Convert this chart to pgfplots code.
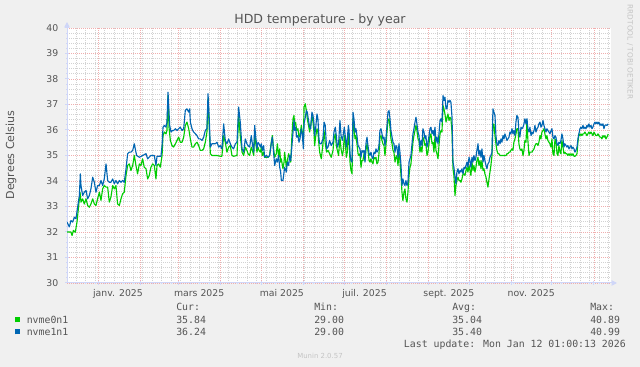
\documentclass[border=0pt]{standalone}
\usepackage{fontspec}
\setmainfont{DejaVu Sans}
\newfontfamily\monofont{DejaVu Sans Mono}
\usepackage{pgfplots}
\pgfplotsset{compat=1.18}
\usetikzlibrary{arrows.meta}
\definecolor{bgc}{HTML}{F0F0F0}
\definecolor{fontc}{HTML}{555555}
\definecolor{axisc}{HTML}{CFD6F8}
\definecolor{mgrid}{HTML}{F0AEAE}
\definecolor{mingrid}{HTML}{D2D2D2}
\definecolor{wmc}{HTML}{C4C4C4}
\definecolor{cgreen}{HTML}{00CC00}
\definecolor{cblue}{HTML}{0066B3}
\newcommand{\lf}{\monofont\fontsize{7.4}{8}\selectfont}
\begin{document}
\begin{tikzpicture}[x=1pt,y=1pt]
\fill[bgc] (0,0) rectangle (480,275.25);
\begin{axis}[
  at={(50.25pt,63pt)}, anchor=south west,
  scale only axis, width=408pt, height=191.25pt,
  xmin=0, xmax=400, ymin=30, ymax=40,
  axis background/.style={fill=white},
  axis x line=bottom, axis y line=left,
  axis line style={draw=axisc, line width=0.75pt},
  x axis line style={-{Triangle[length=4pt,width=4pt]}, shorten >=-4.5pt},
  y axis line style={-{Triangle[length=4pt,width=4pt]}, shorten >=-4.5pt},
  xtick={22.8,53.7,81.8,112.7,142.7,173.7,203.7,234.6,265.6,295.6,326.6,356.5,387.5},
  xticklabels={},
  extra x ticks={37.5,97.2,158,218.8,280.8,341.3},
  extra x tick labels={janv. 2025,mars 2025,mai 2025,juil. 2025,sept. 2025,nov. 2025},
  extra x tick style={grid=none, major tick length=0pt},
  minor xtick={6.82,13.81,...,399},
  ytick={30,31,...,40},
  minor ytick={30.2,30.4,...,39.9},
  grid=both,
  major grid style={draw=mgrid, dash pattern=on 0.75pt off 0.75pt, line width=0.6pt},
  minor grid style={draw=mingrid, dash pattern=on 0.75pt off 0.75pt, line width=0.6pt},
  tick style={draw=axisc, line width=0.75pt},
  tick align=center, major tick length=3pt, minor tick length=1.5pt,
  /pgf/number format/assume math mode=true,
  yticklabel style={font=\fontsize{7}{8}\selectfont, text=fontc, anchor=east, inner sep=0pt, xshift=-4.9pt},
  xticklabel style={font=\fontsize{7}{8}\selectfont, text=fontc, anchor=base, inner sep=0pt, yshift=-10.1pt},
  clip=true,
]
\addplot[cgreen, line width=0.85pt, line join=round] coordinates {
(0,32.0) (2.9,32.0) (3.7,31.86) (4.7,32.06) (6.1,31.99) (7.35,32.39) (8.6,33.04) (9.6,33.56) (10.3,33.17) (11.5,33.30) (12.7,33.10) (14.0,33.30) (15.2,33.04) (16.4,32.97) (17.6,33.10) (18.9,33.30) (20.1,33.10) (21.3,33.04) (22.5,33.30) (23.8,33.56) (25.0,33.24) (26.2,33.69) (27.4,33.82) (28.7,33.76) (29.9,33.76) (31.1,33.17) (32.3,33.37) (33.6,33.82) (34.8,33.69) (36.0,33.82) (37.2,33.10) (38.5,33.04) (39.7,33.30) (40.9,33.50) (42.1,33.56) (43.4,34.22) (44.6,34.61) (45.8,34.67) (47.0,34.41) (48.3,34.61) (49.5,35.0) (50.7,34.61) (51.9,34.28) (53.2,34.67) (54.4,34.61) (55.6,34.87) (56.8,34.54) (58.1,34.48) (59.3,34.08) (60.5,34.22) (61.7,34.54) (63.0,34.67) (64.2,34.61) (65.4,34.08)
(66.2,34.61) (67.4,34.67) (68.6,34.54) (69.9,35.0) (70.6,35.78) (71.6,35.92) (72.8,35.85) (73.5,35.98) (74.3,37.35) (75.0,36.11) (76.0,35.59) (77.2,35.39) (78.4,35.33) (79.7,35.46) (80.9,35.59) (82.1,35.72) (83.3,35.52) (84.6,35.52) (85.8,35.72) (87.0,36.18) (88.2,36.31) (89.5,36.05) (90.7,35.65) (91.9,35.33) (93.1,35.33) (94.4,35.46) (95.6,35.52) (96.8,35.39) (98.0,35.20) (99.3,35.20) (100.5,35.26) (101.7,35.52) (102.9,35.92) (103.7,37.22) (104.6,36.05) (105.4,35.07) (106.6,35.0) (107.8,35.0) (110.3,35.0) (112.7,34.97) (113.9,34.97) (115.2,35.78) (116.4,35.52) (117.6,35.13) (118.9,35.33) (120.1,35.39) (121.3,35.0) (122.5,34.97) (125.0,35.0) (126.2,36.57) (127.4,35.78) (128.7,35.13) (129.9,35.0) (131.1,35.33) (132.3,35.20)
(133.1,35.07) (134.3,35.0) (135.5,35.33) (136.3,35.20) (137.3,35.0) (138.0,35.85) (138.7,35.52) (139.7,35.13) (140.4,35.33) (141.2,35.20) (142.2,35.13) (142.9,35.33) (143.6,35.0) (144.6,35.13) (145.3,34.93) (146.6,34.93) (147.8,34.93) (149.0,35.0) (150.2,35.52) (151.0,35.78) (151.9,35.26) (152.7,34.93) (153.9,35.07) (154.7,35.46) (155.6,34.93) (156.4,35.26) (157.1,34.74) (157.6,34.87) (158.8,34.48) (159.6,34.74) (160.0,35.13) (161.3,34.54) (162.0,34.80) (163.0,35.07) (163.7,34.93) (164.5,34.74) (165.4,35.78) (166.2,36.44) (166.9,36.57) (167.4,36.18) (168.1,36.31) (168.9,35.98) (169.8,36.05) (170.6,35.72) (171.3,35.78) (172.3,36.18) (173.0,35.92) (173.8,35.52) (174.3,36.90) (175.2,37.03) (176.0,36.76) (176.7,36.44) (177.4,36.24) (178.4,35.92) (179.2,36.18) (180.1,36.57) (180.9,36.31) (181.6,35.92) (182.1,35.39) (182.8,35.72) (183.8,36.05) (184.5,35.92) (185.3,35.39) (185.8,35.13) (187.0,34.87) (188.2,35.46) (189.0,35.98) (189.9,35.46) (190.9,35.13) (191.9,35.20) (193.1,35.07) (194.3,34.93) (195.6,35.20) (196.3,35.65) (197.3,35.85) (198.0,35.39) (198.8,35.20) (199.7,35.0)
(200.7,35.72) (201.5,35.26) (202.5,35.0) (203.2,35.20) (203.9,35.78) (204.7,35.46) (205.4,34.93) (206.1,35.13) (206.9,35.92) (207.4,35.65) (208.1,34.74) (208.8,34.41) (209.6,34.28) (210.3,36.44) (211.0,36.11) (211.8,35.65) (212.5,35.78) (213.2,35.46) (214.0,35.07) (214.7,35.0) (215.4,35.07) (216.2,34.54) (216.9,34.80) (217.6,34.80) (218.4,35.07) (219.1,34.80) (219.8,35.20) (220.6,35.46) (221.3,35.20) (222.1,34.80) (222.8,34.74) (223.5,34.87) (224.3,34.74) (225.0,34.67) (225.7,34.93) (226.5,34.87) (227.2,34.93) (227.9,34.67) (228.7,34.74) (229.4,35.07) (230.1,35.72) (230.9,35.78) (231.6,35.59) (232.3,35.46) (233.1,35.39) (233.8,35.0) (234.5,35.39) (235.3,35.92) (236.0,36.37) (236.8,36.44) (237.5,36.11) (238.2,35.65) (239.0,35.46) (239.7,35.20) (240.4,35.13) (241.2,34.74) (241.9,34.93) (242.6,35.0) (243.4,34.61) (244.1,35.13) (244.8,34.80) (245.6,34.22) (246.3,33.56) (247.0,33.23) (247.8,33.56) (248.5,33.69) (249.2,33.30) (250.0,33.17) (250.7,33.56) (251.5,34.22) (252.2,34.54) (252.9,34.67) (253.7,35.13) (254.4,35.52) (255.1,35.78) (255.9,35.98) (256.6,36.18) (257.3,35.98) (258.1,35.65) (258.8,35.59) (259.5,35.13) (260.3,35.33) (261.0,35.13) (261.7,35.72) (262.5,35.59) (263.2,35.39) (263.9,35.46) (264.7,35.0) (265.4,35.13) (266.2,35.46)
(266.9,35.78) (267.6,35.85) (268.4,35.46) (269.1,35.52) (269.8,35.13) (270.6,35.78) (271.3,35.20) (272.0,35.07) (272.8,34.87) (273.5,35.39) (274.3,35.85) (275.0,35.98) (275.7,35.92) (276.5,36.96) (277.2,36.83) (277.9,36.63) (278.7,36.31) (279.4,36.50) (280.1,36.63) (280.9,36.37) (281.6,36.50) (282.3,36.44) (283.1,35.92) (283.8,34.48) (284.5,34.22) (285.3,33.43) (286.0,33.82) (286.7,34.02) (287.5,34.15) (288.2,34.02) (289.0,34.02) (289.7,33.95) (290.4,34.08) (291.2,34.28) (291.9,34.28) (292.6,34.22) (293.4,34.41) (294.1,34.54) (294.8,34.35) (295.6,34.61) (296.3,34.41) (297.0,34.22) (297.8,34.74) (298.5,34.41) (299.2,34.61) (300.0,34.35) (300.7,34.54) (301.4,34.80) (302.2,34.93) (302.9,34.61) (303.7,34.80) (304.4,34.48) (305.1,34.80) (305.9,34.41) (306.6,34.48) (307.3,34.28) (308.1,34.15) (308.8,33.95) (309.5,33.76) (310.3,34.08) (311.0,34.35) (311.7,34.61) (312.5,35.0) (313.2,36.18) (313.9,36.24) (314.7,35.78) (315.4,35.46) (316.1,35.20) (316.9,35.07) (317.6,35.07) (318.4,35.0) (320.6,35.0) (322.8,35.0) (323.5,35.07) (324.2,35.07) (325.0,35.13) (325.7,35.13) (326.4,35.20) (327.2,35.26) (327.9,35.20) (328.6,35.52) (329.4,35.65) (330.1,35.85) (330.8,36.05) (331.6,36.05) (332.3,35.46) (333.0,35.26)
(333.8,35.20) (334.5,35.26) (335.3,35.0) (336.0,35.20) (336.7,35.59) (337.5,35.52) (338.2,36.37) (338.9,35.59) (339.7,35.0) (340.4,35.13) (341.2,35.13) (341.9,35.13) (342.6,35.20) (343.4,35.26) (344.1,35.39) (344.8,35.46) (345.6,35.46) (346.3,35.39) (347.0,35.52) (347.8,35.78) (348.5,35.65) (349.2,35.92) (350.0,35.98) (350.7,36.05) (351.4,35.85) (352.2,35.65) (352.9,35.78) (353.6,35.59) (354.4,35.52) (355.1,35.46) (355.9,35.33) (356.6,35.65) (357.3,35.07) (358.1,35.0) (358.8,35.65) (359.5,35.59) (360.3,35.07) (361.0,35.0) (361.7,35.39) (362.5,35.13) (363.2,35.07) (363.9,35.59) (364.7,35.33) (365.4,35.07) (366.1,35.13) (366.9,35.07) (367.6,35.07) (368.3,35.0) (369.1,35.07) (369.8,35.0) (370.6,35.07) (371.3,35.0) (372.0,35.07) (372.8,34.97) (373.5,34.97) (374.2,35.0) (375.0,35.07) (375.7,35.52) (376.4,35.85) (377.2,35.78) (377.9,35.85) (378.6,35.78) (379.4,35.85) (380.1,35.85) (380.8,35.92) (381.6,35.85) (382.3,35.78) (383.0,35.85) (383.8,35.92) (384.5,35.85) (385.3,35.92) (386.0,35.85) (386.7,35.78) (387.5,35.92) (388.2,35.85) (388.9,35.78) (389.7,35.78) (390.4,35.85) (391.1,35.78) (391.9,35.72) (392.6,35.72) (393.3,35.65) (394.1,35.78) (394.8,35.72) (395.5,35.78) (396.3,35.65) (397.0,35.72) (398.0,35.84)
};
\addplot[cblue, line width=0.85pt, line join=round] coordinates {
(0,32.39) (1.7,32.2) (2.9,32.45) (4.2,32.39) (5.4,32.58) (6.6,32.52) (7.8,32.97) (9.1,33.43) (9.8,34.28) (10.3,33.82) (11.5,33.43) (12.7,33.56) (14.0,33.63) (15.2,33.30) (16.4,33.43) (17.6,33.69) (18.9,34.15) (20.1,33.95) (21.3,33.56) (22.5,33.82) (23.8,33.82) (25.0,34.02) (26.2,33.82) (27.4,34.08) (28.7,34.67) (29.9,34.02) (31.1,33.95) (32.3,33.95) (33.6,34.08) (34.8,33.89) (36.0,34.02) (37.2,33.89) (38.5,34.02) (39.7,33.95) (40.9,34.02) (42.1,33.95) (43.4,34.48) (44.6,35.07) (45.8,35.13) (47.0,35.13) (48.3,35.20) (49.5,35.46) (50.2,35.26) (51.2,35.0) (53.2,34.93) (55.6,35.0) (58.1,35.07) (59.3,34.87) (61.7,35.0) (64.2,35.0) (65.4,34.61)
(66.2,34.97) (69.1,34.97) (69.9,35.39) (70.6,36.11) (71.6,36.18) (72.8,36.11) (73.5,36.31) (74.3,37.48) (75.0,36.70) (75.5,36.18) (76.5,35.92) (77.5,35.98) (78.4,35.98) (79.7,36.05) (80.9,35.98) (82.1,36.05) (83.3,36.11) (84.6,35.98) (85.8,36.05) (87.0,36.77) (88.2,36.83) (89.5,36.70) (90.2,36.83) (90.7,36.31) (91.9,36.05) (93.1,35.92) (94.4,35.85) (95.6,35.78) (96.8,35.65) (98.0,35.65) (99.3,35.59) (100.5,35.72) (101.7,35.98) (102.9,36.05) (103.7,37.42) (104.6,36.44) (105.4,35.33) (106.6,35.46) (107.8,35.46) (109.0,35.46) (110.3,35.52) (111.5,35.33) (112.7,35.39) (113.9,35.26) (115.2,36.24) (116.4,35.59) (117.6,35.46) (118.9,35.65) (120.1,35.46) (121.3,35.33) (122.5,35.26) (123.8,35.46) (125.0,35.52) (126.2,36.90) (127.4,36.31) (128.7,35.26) (129.9,35.13) (131.1,35.65) (132.3,35.46)
(133.1,35.39) (134.3,35.33) (135.5,35.78) (136.3,35.46) (137.3,35.13) (138.0,36.18) (138.7,35.78) (139.7,35.26) (140.4,35.52) (141.2,35.46) (142.2,35.33) (142.9,35.46) (143.6,35.20) (144.6,35.39) (145.3,34.93) (146.6,35.00) (147.8,34.93) (149.0,35.00) (150.2,35.46) (151.0,35.72) (151.9,35.13) (152.7,34.61) (153.9,34.87) (154.7,34.74) (155.6,35.00) (156.4,34.54) (157.1,34.35) (157.6,34.02) (158.8,34.02) (159.6,34.35) (160.0,34.54) (161.3,34.35) (162.0,34.74) (163.0,34.61) (163.7,35.00) (164.5,34.80) (165.4,35.39) (166.2,35.92) (166.9,36.37) (167.4,35.98) (168.1,36.11) (168.9,35.72) (169.8,35.78) (170.6,35.52) (171.3,35.65) (172.3,36.05) (173.0,35.85) (173.8,35.26) (174.3,36.24) (175.2,36.50) (176.0,36.76) (176.7,36.70) (177.4,36.44) (178.4,36.11) (179.2,36.05) (180.1,36.70) (180.9,36.57) (181.6,36.24) (182.1,35.78) (182.8,36.05) (183.8,36.63) (184.5,36.44) (185.3,35.65) (185.8,35.46) (187.0,35.46) (188.2,35.65) (189.0,36.31) (189.9,36.18) (190.9,35.26) (191.9,35.33) (193.1,35.59) (194.3,35.39) (195.6,35.52) (196.3,35.92) (197.3,36.11) (198.0,35.78) (198.8,35.33) (199.7,35.46)
(200.7,36.37) (201.5,35.78) (202.5,35.59) (203.2,35.85) (203.9,36.11) (204.7,35.72) (205.4,35.33) (206.1,35.65) (206.9,36.18) (207.4,35.98) (208.1,35.07) (208.8,34.80) (209.6,34.74) (210.3,36.70) (211.0,36.44) (211.8,35.92) (212.5,36.05) (213.2,35.78) (214.0,35.39) (214.7,35.33) (215.4,35.26) (216.2,34.93) (216.9,35.20) (217.6,35.13) (218.4,35.20) (219.1,34.74) (219.8,35.46) (220.6,35.72) (221.3,35.39) (222.1,35.07) (222.8,35.0) (223.5,35.13) (224.3,34.93) (225.0,34.87) (225.7,35.13) (226.5,35.07) (227.2,35.26) (227.9,35.13) (228.7,35.20) (229.4,35.39) (230.1,35.98) (230.9,36.05) (231.6,35.85) (232.3,35.65) (233.1,35.72) (233.8,35.39) (234.5,35.65) (235.3,36.18) (236.0,36.70) (236.8,36.76) (237.5,36.44) (238.2,35.98) (239.0,35.72) (239.7,35.52) (240.4,35.46) (241.2,35.13) (241.9,35.39) (242.6,35.33) (243.4,34.93) (244.1,35.46) (244.8,35.13) (245.6,34.61) (246.3,33.82) (247.0,34.08) (247.8,33.89) (248.5,33.82) (249.2,34.02) (250.0,33.82) (250.7,33.95) (251.5,34.74) (252.2,34.87) (252.9,35.0) (253.7,35.46) (254.4,35.85) (255.1,36.05) (255.9,36.31) (256.6,36.50) (257.3,36.24) (258.1,35.92) (258.8,35.78) (259.5,35.33) (260.3,35.59) (261.0,35.39) (261.7,36.05) (262.5,35.92) (263.2,35.65) (263.9,35.78) (264.7,35.33) (265.4,35.46) (266.2,35.78)
(266.9,36.05) (267.6,36.11) (268.4,35.85) (269.1,35.98) (269.8,35.78) (270.6,36.11) (271.3,35.52) (272.0,35.72) (272.8,35.46) (273.5,35.85) (274.3,36.37) (275.0,36.44) (275.7,36.31) (276.5,37.35) (277.2,37.16) (277.9,37.29) (278.7,36.83) (279.4,36.83) (280.1,37.16) (280.9,37.09) (281.6,37.16) (282.3,37.09) (283.1,36.50) (283.8,34.74) (284.5,34.54) (285.3,34.15) (286.0,33.89) (286.7,34.35) (287.5,34.48) (288.2,34.28) (289.0,34.41) (289.7,34.35) (290.4,34.48) (291.2,34.28) (291.9,34.54) (292.6,34.48) (293.4,34.61) (294.1,34.74) (294.8,34.54) (295.6,34.93) (296.3,34.80) (297.0,34.54) (297.8,34.93) (298.5,34.74) (299.2,35.0) (300.0,34.80) (300.7,34.93) (301.4,35.20) (302.2,35.46) (302.9,35.0) (303.7,35.20) (304.4,34.93) (305.1,35.26) (305.9,34.74) (306.6,35.0) (307.3,34.80) (308.1,34.61) (308.8,34.48) (309.5,34.67) (310.3,34.74) (311.0,34.93) (311.7,35.0) (312.5,35.13) (313.2,36.83) (313.9,36.70) (314.7,36.57) (315.4,35.78) (316.1,35.46) (316.9,35.39) (317.6,35.59) (318.4,35.46) (319.1,35.65) (319.8,35.52) (320.6,35.78) (321.3,35.65) (322.0,35.85) (322.8,35.72) (323.5,35.59) (324.2,35.65) (325.0,35.72) (325.7,35.92) (326.4,35.85) (327.2,36.05) (327.9,35.85) (328.6,35.98) (329.4,35.78) (330.1,36.31) (330.8,36.57) (331.6,36.50) (332.3,35.92) (333.0,35.72)
(333.8,36.11) (334.5,36.05) (335.3,36.11) (336.0,36.24) (336.7,36.44) (337.5,36.24) (338.2,36.44) (338.9,36.05) (339.7,35.92) (340.4,36.11) (341.2,35.78) (341.9,35.92) (342.6,35.85) (343.4,35.98) (344.1,36.18) (344.8,35.92) (345.6,36.05) (346.3,36.11) (347.0,36.24) (347.8,36.31) (348.5,36.11) (349.2,36.18) (350.0,36.37) (350.7,36.18) (351.4,36.05) (352.2,35.92) (352.9,36.05) (353.6,35.98) (354.4,35.92) (355.1,35.85) (355.9,35.98) (356.6,36.05) (357.3,35.72) (358.1,35.65) (358.8,35.78) (359.5,35.72) (360.3,35.46) (361.0,35.39) (361.7,35.52) (362.5,35.46) (363.2,35.59) (363.9,35.85) (364.7,35.65) (365.4,35.33) (366.1,35.46) (366.9,35.39) (367.6,35.33) (368.3,35.39) (369.1,35.26) (369.8,35.33) (370.6,35.39) (371.3,35.26) (372.0,35.33) (372.8,35.26) (373.5,35.13) (374.2,35.20) (375.0,35.33) (375.7,35.65) (376.4,35.85) (377.2,36.05) (377.9,36.11) (378.6,36.05) (379.4,36.18) (380.1,36.05) (380.8,36.11) (381.6,36.05) (382.3,36.18) (383.0,36.11) (383.8,36.24) (384.5,36.11) (385.3,36.18) (386.0,36.05) (386.7,36.11) (387.5,36.24) (388.2,36.31) (388.9,36.24) (389.7,36.31) (390.4,36.24) (391.1,36.31) (391.9,36.18) (392.6,36.24) (393.3,36.18) (394.1,36.24) (394.8,36.05) (395.5,36.18) (396.3,36.20) (397.0,36.18) (398.0,36.24)
};
\end{axis}
\node[font=\fontsize{9.4}{11}\selectfont, text=fontc, anchor=base, inner sep=0pt] at (240,257.6) {HDD temperature - by year};
\node[font=\fontsize{8.3}{10}\selectfont, text=fontc, rotate=90, inner sep=0pt] at (8.25,159) {Degrees Celsius};
\node[font=\fontsize{5.5}{6}\selectfont, text=wmc, rotate=-90, inner sep=0pt] at (472.5,236.25) {RRDTOOL / TOBI OETIKER};
\node[font=\lf, text=fontc, anchor=base west, inner sep=0pt] at (132,42.3) {Cur:};
\node[font=\lf, text=fontc, anchor=base west, inner sep=0pt] at (235.5,42.3) {Min:};
\node[font=\lf, text=fontc, anchor=base west, inner sep=0pt] at (339,42.3) {Avg:};
\node[font=\lf, text=fontc, anchor=base west, inner sep=0pt] at (442.5,42.3) {Max:};
\node[anchor=south west, inner sep=0pt] at (10.7,33.25) {\textcolor{cgreen}{\rule{4pt}{4pt}}};
\node[font=\lf, text=fontc, anchor=base west, inner sep=0pt] at (19.9,32.55) {nvme0n1};
\node[font=\lf, text=fontc, anchor=base west, inner sep=0pt] at (132,32.55) {35.84};
\node[font=\lf, text=fontc, anchor=base west, inner sep=0pt] at (235.5,32.55) {29.00};
\node[font=\lf, text=fontc, anchor=base west, inner sep=0pt] at (339,32.55) {35.04};
\node[font=\lf, text=fontc, anchor=base west, inner sep=0pt] at (442.5,32.55) {40.89};
\node[anchor=south west, inner sep=0pt] at (10.7,24.25) {\textcolor{cblue}{\rule{4pt}{4pt}}};
\node[font=\lf, text=fontc, anchor=base west, inner sep=0pt] at (19.9,23.55) {nvme1n1};
\node[font=\lf, text=fontc, anchor=base west, inner sep=0pt] at (132,23.55) {36.24};
\node[font=\lf, text=fontc, anchor=base west, inner sep=0pt] at (235.5,23.55) {29.00};
\node[font=\lf, text=fontc, anchor=base west, inner sep=0pt] at (339,23.55) {35.40};
\node[font=\lf, text=fontc, anchor=base west, inner sep=0pt] at (442.5,23.55) {40.99};
\node[font=\lf, text=fontc, anchor=base east, inner sep=0pt] at (469.5,14.55) {Last update: Mon Jan 12 01:00:13 2026};
\node[font=\fontsize{5.2}{6}\selectfont, text=wmc, anchor=base, inner sep=0pt] at (240,6.35) {Munin 2.0.57};
\end{tikzpicture}
\end{document}
